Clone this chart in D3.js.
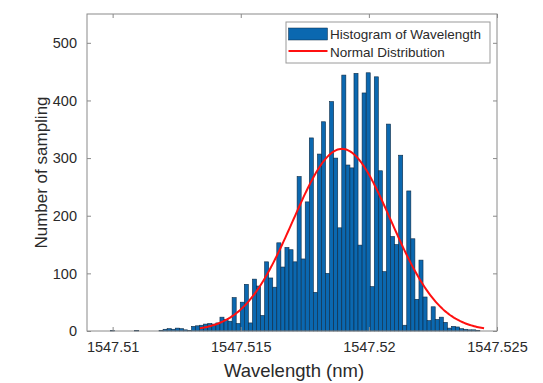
<!DOCTYPE html>
<html>
<head>
<meta charset="utf-8">
<script src="https://cdn.jsdelivr.net/npm/d3@7"></script>
<style>
  html, body { margin: 0; padding: 0; background: #ffffff; }
  svg { display: block; }
  text { font-family: "Liberation Sans", Arial, Helvetica, sans-serif; }
</style>
</head>
<body>
<svg id="chart" width="543" height="383"></svg>
<script>
// Histogram bins of measured wavelength (nm)
const binStart = 1547.50975;
const binWidth = 0.0001585;
const counts = [
  0, 1, 0, 0, 0, 0, 0, 1, 0, 0,
  0, 0, 0, 1, 3, 4, 3, 5, 4, 2,
  1, 8, 9, 10, 12, 13, 12, 14, 24, 20,
  17, 58, 13, 50, 81, 14, 90, 78, 27, 120,
  92, 76, 153, 111, 145, 141, 120, 268, 125, 224,
  335, 67, 307, 363, 100, 398, 300, 179, 444, 288,
  283, 447, 149, 413, 448, 77, 441, 278, 103, 359,
  164, 150, 305, 10, 243, 160, 55, 123, 59, 18,
  42, 20, 24, 15, 5, 8, 7, 4, 3, 2,
  2, 1
];

// Fitted normal distribution
const fitMean = 1547.51895;
const fitSigma = 0.001912;
const fitPeak = 316;
const fitSpan = 2.9;   // curve drawn over mean ± fitSpan·sigma

// Axes
const xDomain = [1547.509, 1547.525];
const yDomain = [0, 550];
const xTicks = [1547.51, 1547.515, 1547.52, 1547.525];
const xTickLabels = ["1547.51", "1547.515", "1547.52", "1547.525"];
const yTicks = [0, 100, 200, 300, 400, 500];
const xTitle = "Wavelength (nm)";
const yTitle = "Number of sampling";
const legendLabels = ["Histogram of Wavelength", "Normal Distribution"];

const barColor = "#0b68b0";
const barEdge = "#0d2a45";
const curveColor = "#ff1010";
const axisColor = "#8a8a8a";
const textColor = "#2a2a2a";

const plot = { left: 87, right: 497, top: 14, bottom: 331 };

const svg = d3.select("#chart");
svg.append("rect").attr("width", 543).attr("height", 383).attr("fill", "#ffffff");

const x = d3.scaleLinear().domain(xDomain).range([plot.left, plot.right]);
const y = d3.scaleLinear().domain(yDomain).range([plot.bottom, plot.top]);

// Bars
const bins = counts.map((c, i) => ({
  x0: binStart + i * binWidth,
  x1: binStart + (i + 1) * binWidth,
  count: c
})).filter(d => d.count > 0);

svg.append("g")
  .selectAll("rect")
  .data(bins)
  .join("rect")
  .attr("x", d => x(d.x0))
  .attr("width", d => x(d.x1) - x(d.x0))
  .attr("y", d => y(d.count))
  .attr("height", d => y(0) - y(d.count))
  .attr("fill", barColor)
  .attr("stroke", barEdge)
  .attr("stroke-width", 0.6);

// Normal curve
const curveX = d3.range(0, 201).map(i => fitMean - fitSpan * fitSigma + i * (2 * fitSpan * fitSigma) / 200);
const curve = curveX.map(v => ({
  v,
  c: fitPeak * Math.exp(-0.5 * Math.pow((v - fitMean) / fitSigma, 2))
}));
svg.append("path")
  .datum(curve)
  .attr("fill", "none")
  .attr("stroke", curveColor)
  .attr("stroke-width", 2)
  .attr("d", d3.line().x(d => x(d.v)).y(d => y(d.c)).curve(d3.curveLinear));

// Axes with inward ticks on all four sides
const fmtX = (d, i) => xTickLabels[i];
function styleAxis(g) {
  g.select(".domain").remove();
  g.selectAll(".tick line").attr("stroke", axisColor);
  g.selectAll(".tick text").attr("fill", textColor).style("font-size", "14.5px")
    .style("font-family", "'Liberation Sans', Arial, sans-serif");
}
svg.append("g").attr("transform", `translate(0,${plot.bottom})`)
  .call(d3.axisBottom(x).tickValues(xTicks).tickFormat(fmtX).tickSizeInner(-4).tickSizeOuter(0).tickPadding(11))
  .call(styleAxis);
svg.append("g").attr("transform", `translate(0,${plot.top})`)
  .call(d3.axisTop(x).tickValues(xTicks).tickFormat("").tickSizeInner(-4).tickSizeOuter(0))
  .call(styleAxis);
svg.append("g").attr("transform", `translate(${plot.left},0)`)
  .call(d3.axisLeft(y).tickValues(yTicks).tickFormat(d3.format("d")).tickSizeInner(-4).tickSizeOuter(0).tickPadding(10))
  .call(styleAxis);
svg.append("g").attr("transform", `translate(${plot.right},0)`)
  .call(d3.axisRight(y).tickValues(yTicks).tickFormat("").tickSizeInner(-4).tickSizeOuter(0))
  .call(styleAxis);

// Plot frame
svg.append("rect")
  .attr("x", plot.left).attr("y", plot.top)
  .attr("width", plot.right - plot.left).attr("height", plot.bottom - plot.top)
  .attr("fill", "none").attr("stroke", axisColor).attr("stroke-width", 1);

// Axis titles
svg.append("text")
  .attr("x", (plot.left + plot.right) / 2 + 2)
  .attr("y", 377)
  .attr("text-anchor", "middle")
  .attr("fill", textColor)
  .style("font-size", "18.5px")
  .text(xTitle);
svg.append("text")
  .attr("transform", `translate(47,${(plot.top + plot.bottom) / 2}) rotate(-90)`)
  .attr("text-anchor", "middle")
  .attr("fill", textColor)
  .style("font-size", "17px")
  .text(yTitle);

// Legend
const legend = svg.append("g").attr("transform", "translate(286,22)");
legend.append("rect")
  .attr("width", 204).attr("height", 41)
  .attr("fill", "#ffffff").attr("stroke", "#9a9a9a").attr("stroke-width", 1);
legend.append("rect")
  .attr("x", 2.5).attr("y", 6).attr("width", 39).attr("height", 12)
  .attr("fill", barColor).attr("stroke", barEdge).attr("stroke-width", 0.5);
legend.append("line")
  .attr("x1", 2.5).attr("x2", 41.5).attr("y1", 29).attr("y2", 29)
  .attr("stroke", curveColor).attr("stroke-width", 2);
legend.selectAll("text.lbl")
  .data(legendLabels)
  .join("text")
  .attr("class", "lbl")
  .attr("x", 44)
  .attr("y", (d, i) => 16.5 + i * 18)
  .attr("fill", textColor)
  .style("font-size", "13.5px")
  .text(d => d);
</script>
</body>
</html>
